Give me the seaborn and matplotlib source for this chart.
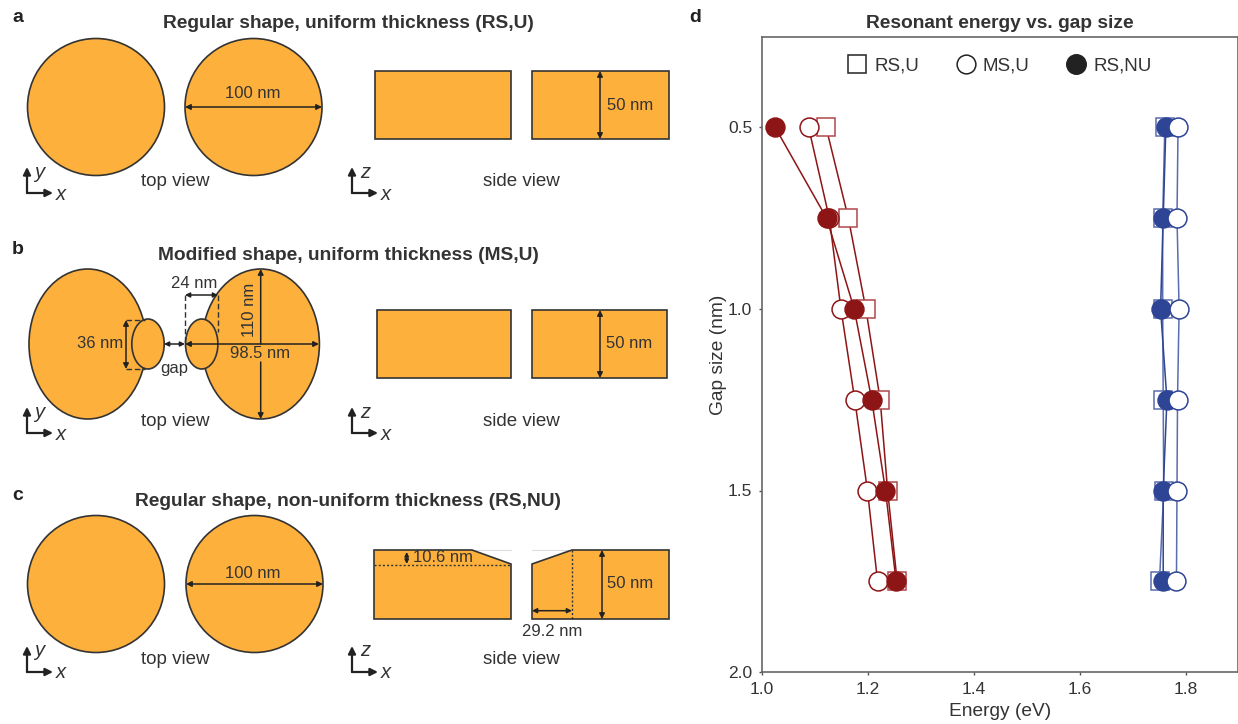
import matplotlib
matplotlib.use("Agg")
import matplotlib.pyplot as plt
from matplotlib.patches import Circle, Ellipse, Rectangle, Polygon
from matplotlib.lines import Line2D
import pandas as pd
import seaborn as sns

W, H = 1238, 724
sns.set_theme(style="ticks")
plt.rcParams["font.family"] = ["Liberation Sans", "DejaVu Sans"]

gap_sizes = [0.5, 0.75, 1.0, 1.25, 1.5, 1.75]
red_rs_u = [1.121, 1.163, 1.196, 1.223, 1.237, 1.255]
red_ms_u = [1.088, 1.127, 1.149, 1.175, 1.199, 1.218]
red_rs_nu = [1.025, 1.122, 1.174, 1.207, 1.233, 1.253]
blue_rs_u = [1.760, 1.756, 1.756, 1.757, 1.758, 1.750]
blue_ms_u = [1.785, 1.783, 1.787, 1.784, 1.783, 1.782]
blue_rs_nu = [1.762, 1.757, 1.752, 1.764, 1.757, 1.757]
x_ticks = [1.0, 1.2, 1.4, 1.6, 1.8]
y_ticks = [0.5, 1.0, 1.5, 2.0]

RED, RED_L = "#8E1516", "#B0474C"
BLUE, BLUE_L = "#2E4494", "#5A6DAE"
ORANGE, EDGE, TXT = "#FDB03C", "#333333", "#333333"

fig = plt.figure(figsize=(W / 100, H / 100), dpi=100, facecolor="white")
bg = fig.add_axes([0, 0, 1, 1])
bg.set_xlim(0, W)
bg.set_ylim(H, 0)
bg.axis("off")


def text(x, y, s, size=12, **kw):
    kw.setdefault("ha", "center")
    kw.setdefault("va", "center")
    kw.setdefault("color", TXT)
    return bg.text(x, y, s, fontsize=size, **kw)


def arrow(x0, y0, x1, y1, style="<|-|>", lw=1.1, ms=8):
    bg.annotate("", xy=(x1, y1), xytext=(x0, y0),
                arrowprops=dict(arrowstyle=style, lw=lw, color="#222222", shrinkA=0, shrinkB=0,
                                mutation_scale=ms), zorder=6)


def dash(xs, ys, ls=(0, (4, 2))):
    bg.plot(xs, ys, color="#333333", lw=1, ls=ls, zorder=5)


def circle(x, y, r=68.5):
    bg.add_patch(Circle((x, y), r, fc=ORANGE, ec=EDGE, lw=1.2, zorder=2))


def ellipse(x, y, rx, ry, z=2):
    bg.add_patch(Ellipse((x, y), 2 * rx, 2 * ry, fc=ORANGE, ec=EDGE, lw=1.2, zorder=z))


def rect(x0, x1, y0, y1):
    bg.add_patch(Rectangle((x0, y0), x1 - x0, y1 - y0, fc=ORANGE, ec=EDGE, lw=1.2, zorder=2))


def axes_glyph(x, y, a, b):
    arrow(x, y, x, y - 26, "-|>", 1.6, 11)
    arrow(x, y, x + 26, y, "-|>", 1.6, 11)
    text(x + 12 if a == "y" else x + 13, y - 21, a, 14.5, style="italic")
    text(x + 34, y + 1, b, 14.5, style="italic")


# Panel titles
for x, y, s in [(18, 18, "a"), (18, 250, "b"), (18, 496, "c"), (695, 18, "d")]:
    text(x, y, s, 14, fontweight="bold", color="#222222")
TITLE = 13.8
text(348, 24, "Regular shape, uniform thickness (RS,U)", TITLE, fontweight="bold")
text(348, 256, "Modified shape, uniform thickness (MS,U)", TITLE, fontweight="bold")
text(348, 502, "Regular shape, non-uniform thickness (RS,NU)", TITLE, fontweight="bold")

for yy in (193, 433, 672):
    axes_glyph(27, yy, "y", "x")
    axes_glyph(352, yy, "z", "x")
for yy in (181, 420, 659):
    text(175, yy + 1, "top view", 13.5)
    text(521, yy + 1, "side view", 13.5)

# Panel a
circle(96, 107)
circle(253.5, 107)
arrow(185, 107, 322, 107)
text(253, 94, "100 nm")
rect(375, 511, 71, 139)
rect(532, 669, 71, 139)
arrow(600, 71, 600, 139)
text(630, 105, "50 nm")

# Panel b
ellipse(87.7, 344, 58.7, 75)
ellipse(260.7, 344, 58.7, 75)
ellipse(148, 344, 16.2, 25, 3)
ellipse(201.7, 344, 16.2, 25, 3)
dash([126, 145], [320, 320])
dash([126, 145], [369, 369])
arrow(126, 320, 126, 369)
text(100, 343, "36 nm")
arrow(164, 344, 185, 344, ms=7)
text(174, 369, "gap")
dash([185, 185], [295, 344])
dash([218, 218], [295, 332])
arrow(185, 295, 218, 295, ms=7)
text(194, 284, "24 nm")
arrow(260.7, 269, 260.7, 344, "<|-", ms=8)
arrow(260.7, 362, 260.7, 419, "-|>", ms=8)
arrow(185, 344, 319, 344)
text(249, 310, "110 nm", rotation=90)
text(260, 354, "98.5 nm")
rect(377, 511, 310, 378)
rect(532, 667, 310, 378)
arrow(600, 310, 600, 378)
text(629, 343, "50 nm")

# Panel c
circle(96, 584)
circle(254.5, 584)
arrow(186, 584, 323, 584)
text(253, 573, "100 nm")
bg.plot([472, 511], [550, 550], color="#DDDDDD", lw=0.8)
bg.plot([532, 572], [550, 550], color="#DDDDDD", lw=0.8)
bg.add_patch(Polygon([(374, 550), (472, 550), (511, 564), (511, 619), (374, 619)],
                     fc=ORANGE, ec=EDGE, lw=1.2, zorder=2))
bg.add_patch(Polygon([(532, 564), (572, 550), (669, 550), (669, 619), (532, 619)],
                     fc=ORANGE, ec=EDGE, lw=1.2, zorder=2))
dash([374, 511], [564.5, 564.5], (0, (1.5, 1.5)))
dash([572, 572], [550, 619], (0, (1.5, 1.5)))
arrow(406.7, 552, 406.7, 564, ms=6)
text(413, 558, "10.6 nm", ha="left")
arrow(532, 610.7, 572, 610.7, ms=7)
text(552, 631, "29.2 nm")
arrow(602, 550, 602, 619)
text(630, 584, "50 nm")

# Panel d
L, R, T, B = 762, 1237.5, 36.7, 672
ax = fig.add_axes([L / W, 1 - B / H, (R - L) / W, (B - T) / H], facecolor="none")
series = [
    (red_rs_u, "s", "white", RED_L, RED),
    (red_ms_u, "o", "white", RED, RED),
    (red_rs_nu, "o", RED, RED, RED),
    (blue_rs_u, "s", "white", BLUE_L, BLUE_L),
    (blue_rs_nu, "o", BLUE, BLUE, BLUE),
    (blue_ms_u, "o", "white", BLUE, BLUE_L),
]
for vals, m, fc, ec, lc in series:
    df = pd.DataFrame({"Energy": vals, "Gap": gap_sizes})
    sns.lineplot(data=df, x="Energy", y="Gap", ax=ax, orient="y", sort=False, estimator=None,
                 color=lc, lw=1.1, marker=m, ms=13.6,
                 mfc=fc, mec=ec, mew=1.1, clip_on=False)

ax.set_xlim(1.0, 1.0 + (R - L) / 530)
ax.set_ylim(2.0, 0.5 - (127.5 - T) / 363)
ax.set_xticks(x_ticks, [f"{v:.1f}" for v in x_ticks])
ax.set_yticks(y_ticks, [f"{v:.1f}" for v in y_ticks])
ax.tick_params(labelsize=12.5, length=2.5, width=1, color="#555555", labelcolor=TXT, pad=4.5)
for s in ax.spines.values():
    s.set_color("#666666")
    s.set_linewidth(1.2)
ax.set_xlabel("Energy (eV)", fontsize=13.8, color=TXT, labelpad=4.5)
ax.set_ylabel("Gap size (nm)", fontsize=13.8, color=TXT, labelpad=1)
text(1000, 24, "Resonant energy vs. gap size", TITLE, fontweight="bold")

handles = [
    Line2D([], [], ls="", marker="s", ms=13.5, mfc="white", mec="#222222", mew=1.1),
    Line2D([], [], ls="", marker="o", ms=13.5, mfc="white", mec="#222222", mew=1.1),
    Line2D([], [], ls="", marker="o", ms=14, mfc="#222222", mec="#222222", mew=1.1),
]
ax.legend(handles, ["RS,U", "MS,U", "RS,NU"], ncol=3, frameon=False, fontsize=13.5,
          labelcolor=TXT, loc="center", bbox_to_anchor=((995 - L) / (R - L), 1 - (66 - T) / (B - T)),
          handletextpad=-0.1, columnspacing=1.5, borderpad=0)

fig.savefig("out.png", dpi=100, facecolor="white")
